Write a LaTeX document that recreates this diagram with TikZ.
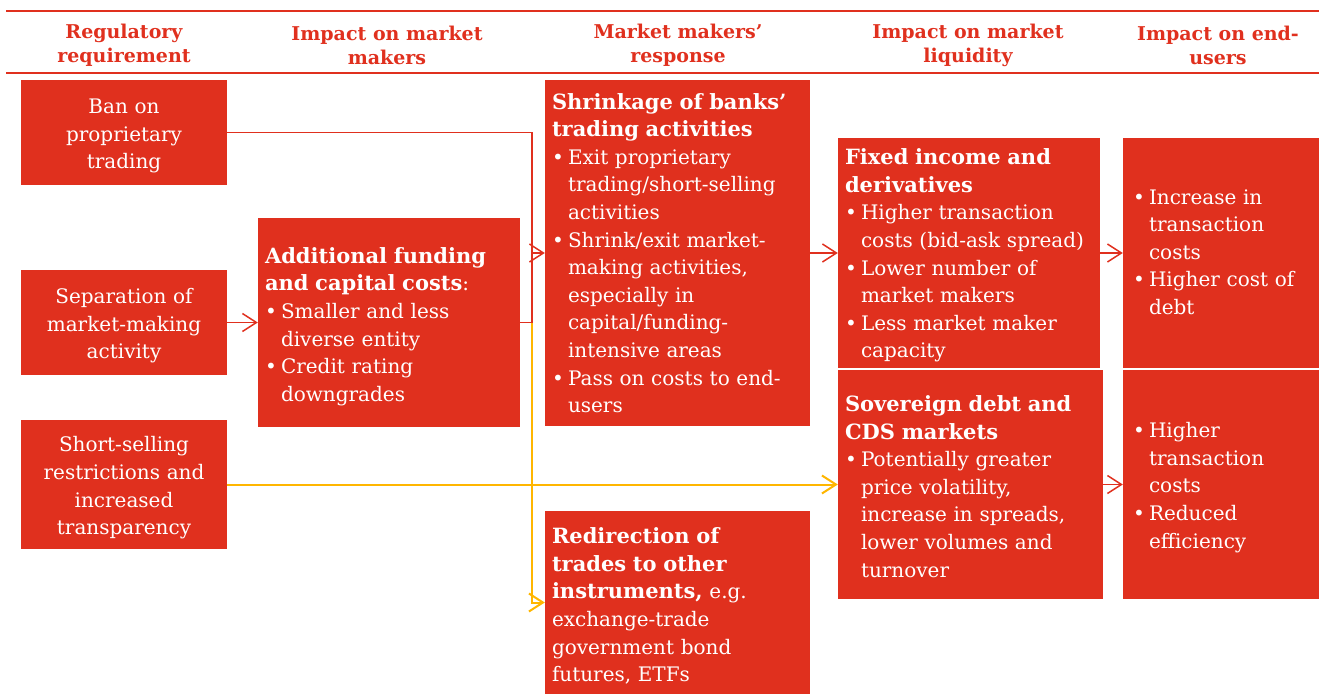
\documentclass[tikz,border=0pt]{standalone}
\usepackage{fontspec}
\setmainfont{DejaVu Serif}
\usetikzlibrary{arrows.meta}
\definecolor{pwcred}{HTML}{E0301E}
\definecolor{pwcyellow}{HTML}{FFB600}
\newcommand{\boxfont}{\fontsize{20}{27.6}\selectfont}
\newcommand{\headfont}{\fontsize{19}{24}\selectfont\bfseries}
\newcommand{\hd}[1]{{\fontsize{21}{27.6}\selectfont\bfseries #1}}
\newcommand{\itm}[1]{\par\noindent\hangindent=16pt\hangafter=1\makebox[16pt][l]{\textbullet}#1\par}
% invisible struts to nudge the text inside a box
\newcommand{\topgap}[1]{\rule{0pt}{#1}}
\newcommand{\botgap}[1]{\rule[-#1]{0pt}{0pt}}
\tikzstyle{colhead}=[text=pwcred,font=\headfont,align=center,inner sep=0pt]
\tikzstyle{reqbox}=[rectangle,fill=pwcred,text=white,font=\boxfont,align=center,text width=196pt,minimum width=206pt,inner sep=0pt]
\tikzstyle{infobox}=[rectangle,fill=pwcred,text=white,font=\boxfont,align=left,inner xsep=7pt,inner ysep=0pt]
\tikzstyle{flow}=[draw,line width=1.5pt]

\begin{document}
\begin{tikzpicture}[x=1pt,y=-1pt,>={Straight Barb[length=14pt,width=18pt]}]
    \useasboundingbox (0,0) rectangle (1319,695);

    % column headings
    \draw[pwcred,line width=2pt] (6,11) -- (1319,11);
    \draw[pwcred,line width=2pt] (6,73) -- (1319,73);
    \foreach \x/\name/\txt in {124/hreq/{Regulatory\\requirement}, 387/himp/{Impact on market\\makers}, 678/hresp/{Market makers’\\response}, 968/hliq/{Impact on market\\liquidity}, 1218/hend/{Impact on end-\\users}}
        \node[colhead] (\name) at (\x,45) {\txt};

    % requirements
    \foreach \y/\h/\name/\txt in {132.5/105/ban/{Ban on\\proprietary\\trading}, 322.5/105/sep/{Separation of\\market-making\\activity}, 484.5/129/short/{Short-selling\\restrictions and\\increased\\transparency}}
        \node[reqbox, minimum height=\h] (\name) at (124,\y) {\topgap{22pt}\txt};

    \node[infobox, text width=248pt, minimum height=209pt] (fund) at (389,322.5)
        {\topgap{24pt}\hd{Additional funding\newline and capital costs}:\itm{Smaller and less\newline diverse entity}\itm{Credit rating\newline downgrades}};
    \node[infobox, text width=251pt, minimum height=345pt] (shrink) at (677.5,253)
        {\hd{Shrinkage of banks’\newline trading activities}\itm{Exit proprietary\newline trading/short-selling\newline activities}\itm{Shrink/exit market-\newline making activities,\newline especially in\newline capital/funding-\newline intensive areas}\itm{Pass on costs to end-\newline users}};
    \node[infobox, text width=251pt, minimum height=183pt] (redir) at (677.5,602.5)
        {\topgap{23pt}\hd{Redirection of\newline trades to other\newline instruments,} e.g.\newline exchange-trade\newline government bond\newline futures, ETFs\par};
    \node[infobox, text width=248pt, minimum height=229pt] (fixed) at (969,253)
        {\topgap{21pt}\hd{Fixed income and\newline derivatives}\itm{Higher transaction\newline costs (bid-ask spread)}\itm{Lower number of\newline market makers}\itm{Less market maker\newline capacity}};
    \node[infobox, text width=251pt, minimum height=229pt] (sov) at (970.5,484.5)
        {\topgap{20pt}\hd{Sovereign debt and\newline CDS markets}\itm{Potentially greater\newline price volatility,\newline increase in spreads,\newline lower volumes and\newline turnover}};
    \node[infobox, inner xsep=10pt, text width=176pt, minimum height=229pt] (endA) at (1221,253)
        {\itm{Increase in\newline transaction\newline costs}\itm{Higher cost of\newline debt\botgap{15pt}}};
    \node[infobox, inner xsep=10pt, text width=176pt, minimum height=229pt] (endB) at (1221,484.5)
        {\itm{Higher\newline transaction\newline costs}\itm{Reduced\newline efficiency\botgap{11pt}}};

    % connectors
    \coordinate (jx) at (532,253);
    \draw[flow,line width=2pt,pwcyellow,->] (fund.east -| jx) |- (redir.west);
    \draw[flow,line width=2pt,pwcyellow,->] (short) -- (sov);
    \draw[flow,pwcred,->] (sep) -- (fund);
    \draw[flow,pwcred,->] (ban.east) -| (jx) -- (shrink.west);
    \draw[flow,pwcred] (fund.east) -| (jx);
    \draw[flow,pwcred,->] (shrink) -- (fixed);
    \draw[flow,pwcred,->] (fixed) -- (endA);
    \draw[flow,pwcred,->] (sov) -- (endB);
\end{tikzpicture}
\end{document}
